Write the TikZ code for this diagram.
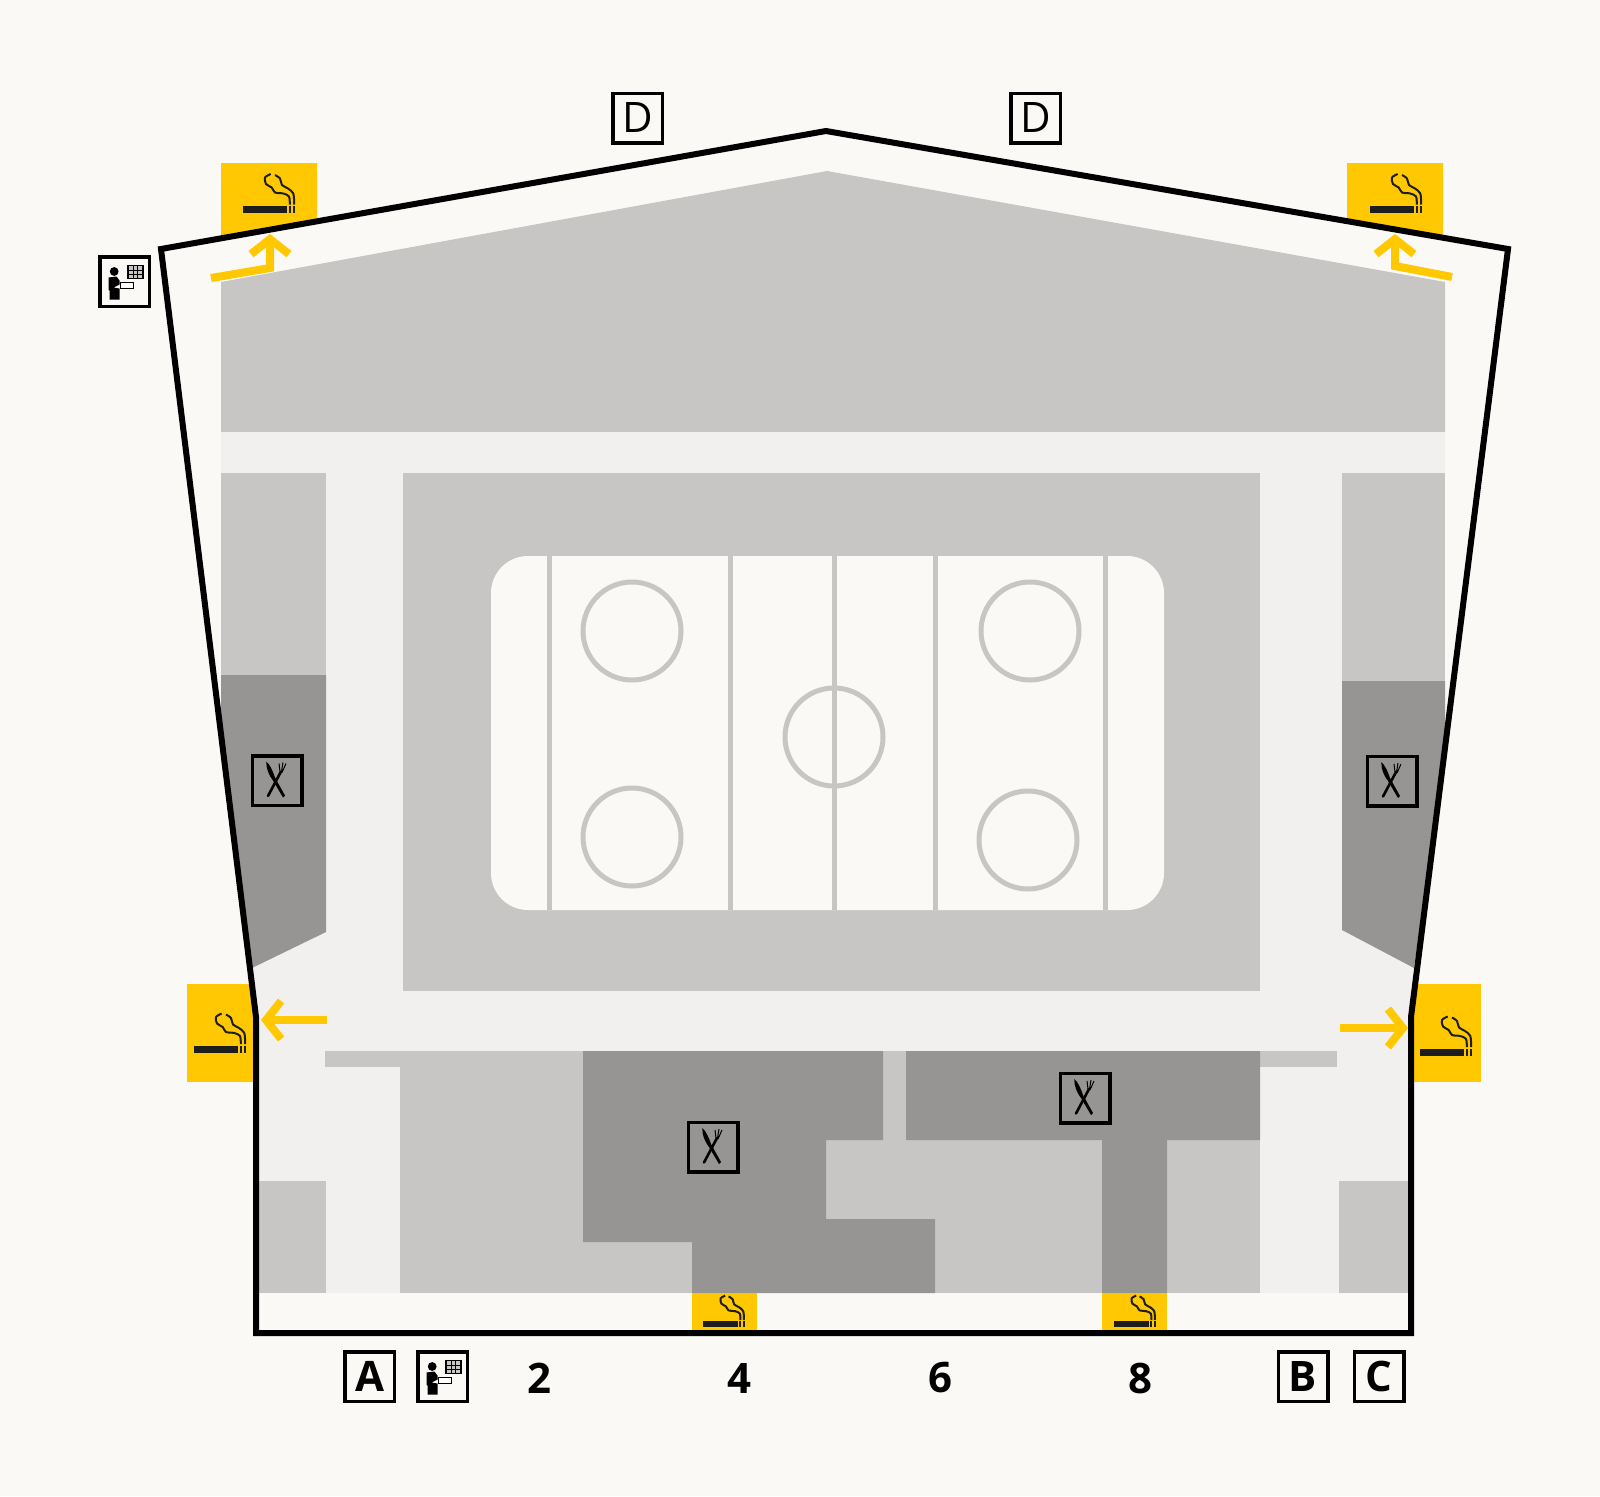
\documentclass[tikz,border=0pt]{standalone}
\usepackage{fontspec}
\setmainfont{Open Sans}
\usetikzlibrary{arrows.meta}
\definecolor{paper}{HTML}{FAF9F5}
\definecolor{hall}{HTML}{F1F0EE}
\definecolor{seats}{HTML}{C7C6C4}
\definecolor{food}{HTML}{969593}
\definecolor{smoke}{HTML}{FFC800}
\definecolor{ink}{HTML}{1D1D1B}
\tikzset{
  wall/.style={draw=black, line width=6pt, line join=miter},
  rinkline/.style={draw=seats, line width=5pt},
  faceoff/.style={draw=seats, line width=5pt, fill=none},
  way/.style={draw=smoke, line width=8pt, -{Straight Barb[length=15pt, width=38pt, line width=8pt]}},
  sign/.style={draw=black, line width=3.5pt, minimum size=49.5pt, inner sep=0pt, font=\fontsize{42pt}{42pt}\selectfont},
  signb/.style={sign, font=\fontsize{42pt}{42pt}\selectfont\bfseries},
  tier/.style={font=\fontsize{42pt}{42pt}\selectfont\bfseries},
  smokeicon/.pic={
    \fill[ink] (0,-3.5) rectangle (44,3.5);
    \fill[ink] (45.5,-3.5) rectangle (48,3.5);
    \fill[ink] (49.8,-3.5) rectangle (52.3,3.5);
    \draw[ink, line width=2pt] plot[smooth] coordinates {(32,-34.5) (37,-31) (39,-24.5) (45,-21) (50.3,-16) (51.2,-5)};
    \draw[ink, line width=2pt] plot[smooth] coordinates {(27.7,-35.5) (22,-32) (23,-25.5) (28.7,-22) (32,-17) (40.3,-16) (46,-13) (46.8,-5)};
  },
  infoicon/.pic={
    \fill[black] (-10.3,-10) circle (4.4);
    \fill[black] (-16,-4) -- (-8,-5) -- (-5,-1) -- (-5,3) -- (-11,6) -- (-5,7) -- (-5,18) -- (-15,18) -- (-15,9) -- (-16,8) -- cycle;
    \draw[black, line width=1pt, fill=white] (-4,1) rectangle (9,7);
    \fill[black] (2.5,-16.7) rectangle (19,-2.3);
    \fill[seats] (4,-15.2) rectangle (17.5,-3.8);
    \draw[black, line width=.6pt] (8.5,-15.2) -- (8.5,-3.8) (13,-15.2) -- (13,-3.8) (4,-11.4) -- (17.5,-11.4) (4,-7.6) -- (17.5,-7.6);
  },
  forkicon/.pic={
    \fill[black] (-10.7,-19) .. controls (-7,-16) and (-4,-9) .. (-2,-3) -- (8,15) -- (6,17) -- (-4,0) .. controls (-8,-5) and (-11,-12) .. cycle;
    \draw[black, line width=2.6pt, line cap=round] (-9,15.5) -- (4,-9);
    \draw[black, line width=1pt] (3,-9) -- (2,-17) (4.5,-9) -- (6,-18) (5,-8) -- (9,-17);
  },
}
\begin{document}
\begin{tikzpicture}[x=1pt, y=-1pt]
\fill[paper] (0,0) rectangle (1600,1496);
\fill[smoke] (221,163) -- (317,163) -- (317,221) -- (221,238) -- cycle;
\fill[smoke] (1347,163) -- (1443,163) -- (1443,238) -- (1347,221) -- cycle;
\fill[smoke] (187,984) rectangle (254,1082);
\fill[smoke] (1414,984) rectangle (1481,1082);
\fill[smoke] (692,1293) rectangle (757,1333);
\fill[smoke] (1102,1293) rectangle (1167,1333);
\fill[seats] (221,282) -- (827,171) -- (1445,282) -- (1445,432) -- (221,432) -- cycle;
\fill[hall] (221,432) -- (1445,432) -- (1445,473) -- (1342,473) -- (1342,930) -- (1414,968) -- (1411,1017) -- (1411,1293) -- (255,1293) -- (256,1017) -- (252,968) -- (326,932) -- (326,473) -- (221,473) -- cycle;
\fill[seats] (221,473) rectangle (326,675);
\fill[seats] (1342,473) rectangle (1445,681);
\fill[food] (221,675) -- (326,675) -- (326,932) -- (252,968) -- (221,740) -- cycle;
\fill[food] (1342,681) -- (1445,681) -- (1445,750) -- (1414,968) -- (1342,930) -- cycle;
\fill[seats] (403,473) rectangle (1260,991);
\fill[paper, rounded corners=37pt] (491,556) rectangle (1164,910);
\draw[rinkline] (549.5,556) -- (549.5,910);
\draw[rinkline] (730,556) -- (730,910);
\draw[rinkline] (834,556) -- (834,910);
\draw[rinkline] (935,556) -- (935,910);
\draw[rinkline] (1105,556) -- (1105,910);
\draw[faceoff] (632,631) circle (49);
\draw[faceoff] (1030,631) circle (49);
\draw[faceoff] (834,737) circle (49);
\draw[faceoff] (632,837) circle (49);
\draw[faceoff] (1028,840) circle (49);
\fill[seats] (325,1051) rectangle (400,1067);
\fill[seats] (1260,1051) rectangle (1337,1067);
\fill[seats] (400,1051) rectangle (1260,1293);
\fill[seats] (257,1181) rectangle (326,1293);
\fill[seats] (1339,1181) rectangle (1409,1293);
\fill[food] (583,1051) -- (883,1051) -- (883,1140) -- (826,1140) -- (826,1219) -- (935,1219) -- (935,1293) -- (692,1293) -- (692,1242) -- (583,1242) -- cycle;
\fill[food] (906,1051) -- (1260,1051) -- (1260,1140) -- (1167,1140) -- (1167,1293) -- (1102,1293) -- (1102,1140) -- (906,1140) -- cycle;
\draw[wall] (256,1333) -- (256,1017) -- (161,249) -- (826,131) -- (1508,249) -- (1411,1017) -- (1411,1333) -- cycle;
\draw[way] (211,278) -- (270,268) -- (270,234);
\draw[way] (1452,277) -- (1395,266) -- (1395,234);
\draw[way] (327,1020) -- (261,1020);
\draw[way] (1340,1028) -- (1408,1028);
\pic at (243,209.5) {smokeicon};
\pic at (1370,209.5) {smokeicon};
\pic at (194,1049) {smokeicon};
\pic at (1420,1052) {smokeicon};
\pic[scale=.8] at (703,1324) {smokeicon};
\pic[scale=.8] at (1114,1324) {smokeicon};
\node[sign] (dleft) at (637.5,118) {D};
\node[sign] (dright) at (1035.5,118) {D};
\node[signb] (aside) at (369.5,1376.5) {A};
\node[signb] (bside) at (1303,1376.5) {B};
\node[signb] (cside) at (1379,1376.5) {C};
\node[sign] (infotop) at (124.5,281.5) {};
\node[sign] (infobot) at (442.5,1376.5) {};
\pic at (infotop) {infoicon};
\pic at (infobot) {infoicon};
\node[sign] (forkl) at (277,780.5) {};
\node[sign] (forkr) at (1392,781) {};
\node[sign] (forkm) at (713,1147) {};
\node[sign] (forkn) at (1085,1098) {};
\pic at (forkl) {forkicon};
\pic at (forkr) {forkicon};
\pic at (forkm) {forkicon};
\pic at (forkn) {forkicon};
\node[tier] (two) at (539,1378) {2};
\node[tier] (four) at (739,1378) {4};
\node[tier] (six) at (940,1378) {6};
\node[tier] (eight) at (1140,1378) {8};
\end{tikzpicture}
\end{document}
